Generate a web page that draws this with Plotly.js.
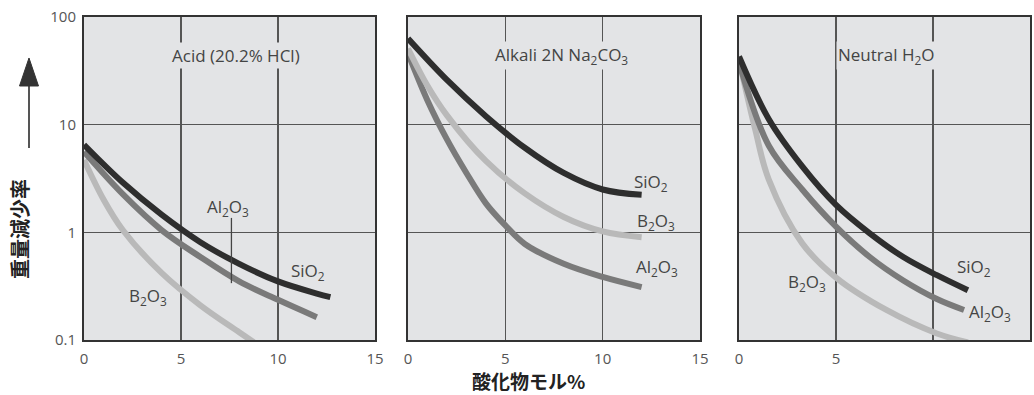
<!DOCTYPE html>
<html>
<head>
<meta charset="utf-8">
<script src="https://cdn.plot.ly/plotly-3.0.1.min.js"></script>
<style>html,body{margin:0;padding:0;background:#fff;}#chart{width:1034px;height:395px;}</style>
</head>
<body>
<div id="chart"></div>
<script>
// Panel titles
const panelTitles = ['Acid (20.2% HCl)', 'Alkali 2N Na<sub>2</sub>CO<sub>3</sub>', 'Neutral H<sub>2</sub>O'];
const xTickVals = [0, 5, 10, 15];
const xTickText = ['0', '5', '10', '15'];
const xTickText3 = ['0', '5', '', '15'];
const yTickVals = [0.1, 1, 10, 100];
const yTickText = ['0.1', '1', '10', '100'];

// Acid (20.2% HCl)
const acidSiO2X = [0, 2, 4, 6, 8, 10, 12, 12.7];
const acidSiO2Y = [6.5, 2.9, 1.46, 0.81, 0.51, 0.35, 0.27, 0.25];
const acidAl2O3X = [0, 2, 4, 6, 8, 10, 12];
const acidAl2O3Y = [5.6, 2.26, 1.05, 0.59, 0.35, 0.236, 0.163];
const acidB2O3X = [0, 1, 2, 4, 6, 8, 9];
const acidB2O3Y = [4.7, 2.03, 1.05, 0.42, 0.21, 0.118, 0.089];

// Alkali 2N Na2CO3
const alkSiO2X = [0, 2, 4, 6, 8, 10, 12];
const alkSiO2Y = [63, 26, 12, 6.1, 3.56, 2.5, 2.23];
const alkB2O3X = [0, 1, 2, 4, 6, 8, 10, 12];
const alkB2O3Y = [51, 23, 12.2, 4.6, 2.3, 1.39, 1.02, 0.9];
const alkAl2O3X = [0, 1, 2, 3, 4, 5, 6, 8, 10, 12];
const alkAl2O3Y = [46, 16.8, 7.3, 3.56, 1.86, 1.16, 0.78, 0.51, 0.385, 0.31];

// Neutral H2O
const neuSiO2X = [0, 1.53, 3.26, 5, 6.74, 8.47, 10.2, 11.8];
const neuSiO2Y = [43, 11.3, 4.1, 1.8, 0.98, 0.59, 0.4, 0.29];
const neuAl2O3X = [0, 1.53, 3.26, 5, 6.74, 8.47, 10.2, 11.6];
const neuAl2O3Y = [38, 6.4, 2.5, 1.13, 0.59, 0.357, 0.24, 0.19];
const neuB2O3X = [0, 0.83, 1.53, 3.26, 5, 7.6, 10.2, 11.8];
const neuB2O3Y = [40, 9.1, 3.1, 0.79, 0.38, 0.19, 0.115, 0.095];

const cSi = '#2e2e2e', cAl = '#7a7a7a', cB = '#b9b9b9';
const LW = 6;
function tr(x, y, color, xa, ya) {
  return {x: x, y: y, xaxis: xa, yaxis: ya, mode: 'lines', type: 'scatter',
    line: {color: color, width: LW, shape: 'spline', smoothing: 1}, hoverinfo: 'skip', showlegend: false};
}
const data = [
  tr(acidB2O3X, acidB2O3Y, cB, 'x', 'y'),
  tr(acidAl2O3X, acidAl2O3Y, cAl, 'x', 'y'),
  tr(acidSiO2X, acidSiO2Y, cSi, 'x', 'y'),
  tr(alkAl2O3X, alkAl2O3Y, cAl, 'x2', 'y2'),
  tr(alkB2O3X, alkB2O3Y, cB, 'x2', 'y2'),
  tr(alkSiO2X, alkSiO2Y, cSi, 'x2', 'y2'),
  tr(neuB2O3X, neuB2O3Y, cB, 'x3', 'y3'),
  tr(neuAl2O3X, neuAl2O3Y, cAl, 'x3', 'y3'),
  tr(neuSiO2X, neuSiO2Y, cSi, 'x3', 'y3')
];

const tickFont = {family: 'Open Sans, Noto Sans, sans-serif', size: 15, color: '#555'};
function xax(domain, anchor, ttext) {
  return {domain: domain, anchor: anchor, range: [0, 15], tickmode: 'array', tickvals: xTickVals, ticktext: ttext,
    showgrid: true, gridcolor: '#555', gridwidth: 1.2, zeroline: false, showline: true, mirror: true,
    linecolor: '#333', linewidth: 2, ticks: '', tickfont: tickFont, ticklabelstandoff: 4, fixedrange: true};
}
function yax(anchor, showLabels) {
  return {domain: [0, 1], anchor: anchor, type: 'log', range: [-1, 2], tickmode: 'array', tickvals: yTickVals, ticktext: yTickText,
    showticklabels: showLabels, showgrid: true, gridcolor: '#555', gridwidth: 1.2, zeroline: false, showline: true, mirror: true,
    linecolor: '#333', linewidth: 2, ticks: '', tickfont: tickFont, ticklabelstandoff: 3, fixedrange: true};
}

const lblFont = {family: 'Open Sans, Noto Sans, sans-serif', size: 17, color: '#444'};
const bg = '#e3e4e6';
function lab(text, x, y, xr, yr, withBg) {
  const a = {text: text, x: x, y: y, xref: xr, yref: yr, showarrow: false, font: lblFont, xanchor: 'center', yanchor: 'middle'};
  if (withBg) { a.bgcolor = bg; a.borderpad = 1; }
  return a;
}
const cjk = 'Noto Sans CJK JP, sans-serif';
const annotations = [
  lab(panelTitles[0], 7.84, 1.647, 'x', 'y', true),
  lab(panelTitles[1], 7.86, 1.647, 'x2', 'y2', true),
  lab(panelTitles[2], 7.58, 1.647, 'x3', 'y3', true),
  lab('Al<sub>2</sub>O<sub>3</sub>', 7.42, 0.235, 'x', 'y', false),
  lab('SiO<sub>2</sub>', 11.55, -0.368, 'x', 'y', false),
  lab('B<sub>2</sub>O<sub>3</sub>', 3.3, -0.60, 'x', 'y', false),
  lab('SiO<sub>2</sub>', 12.48, 0.467, 'x2', 'y2', false),
  lab('B<sub>2</sub>O<sub>3</sub>', 12.74, 0.105, 'x2', 'y2', false),
  lab('Al<sub>2</sub>O<sub>3</sub>', 12.79, -0.322, 'x2', 'y2', false),
  lab('SiO<sub>2</sub>', 12.11, -0.331, 'x3', 'y3', false),
  lab('Al<sub>2</sub>O<sub>3</sub>', 12.94, -0.749, 'x3', 'y3', false),
  lab('B<sub>2</sub>O<sub>3</sub>', 3.5, -0.47, 'x3', 'y3', false),
  {text: '<b>重量減少率</b>', x: -0.0677, y: 0.3437, xref: 'paper', yref: 'paper', showarrow: false, textangle: -90,
    font: {family: cjk, size: 20, color: '#222'}, xanchor: 'center', yanchor: 'middle'},
  {text: '<b>酸化物モル%</b>', x: 0.4704, y: -0.1269, xref: 'paper', yref: 'paper', showarrow: false,
    font: {family: cjk, size: 19, color: '#222'}, xanchor: 'center', yanchor: 'middle'}
];

const shapes = [
  {type: 'line', xref: 'x', yref: 'y domain', x0: 7.6, x1: 7.6, y0: 0.378, y1: 0.176, line: {color: '#444', width: 1.3}},
  {type: 'line', xref: 'paper', yref: 'paper', x0: -0.05814, x1: -0.05814, y0: 0.5944, y1: 0.79, line: {color: '#555', width: 2}},
  {type: 'path', xref: 'paper', yref: 'paper', path: 'M -0.06818 0.7864 L -0.05814 0.8731 L -0.0481 0.7864 Z',
    fillcolor: '#333', line: {color: '#333', width: 1}}
];

const layout = {
  width: 1034, height: 395,
  margin: {l: 84, r: 4, t: 17, b: 55},
  paper_bgcolor: '#ffffff', plot_bgcolor: bg,
  showlegend: false,
  xaxis: xax([0, 0.3076], 'y', xTickText),
  xaxis2: xax([0.3425, 0.6512], 'y2', xTickText),
  xaxis3: xax([0.6924, 1], 'y3', xTickText3),
  yaxis: yax('x', true),
  yaxis2: yax('x2', false),
  yaxis3: yax('x3', false),
  annotations: annotations,
  shapes: shapes
};
Plotly.newPlot('chart', data, layout, {staticPlot: true, displayModeBar: false});
</script>
</body>
</html>
